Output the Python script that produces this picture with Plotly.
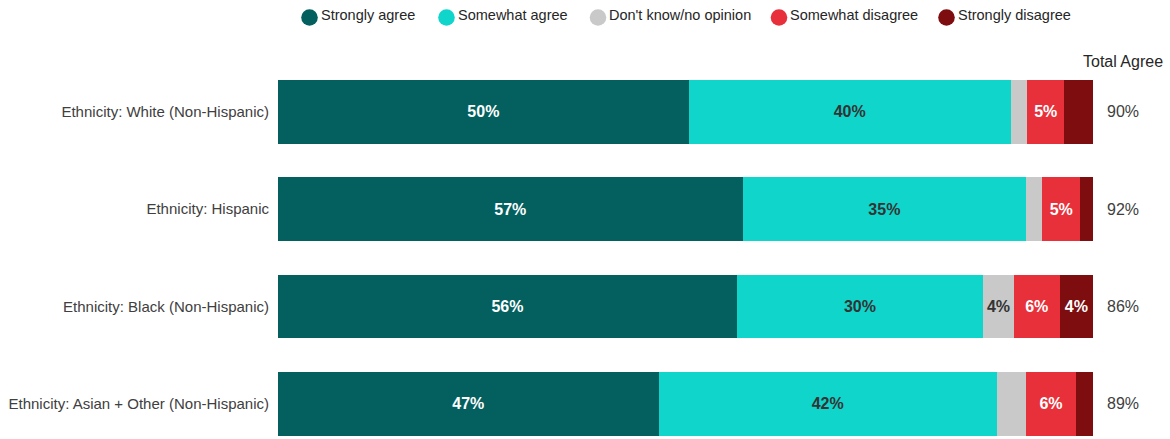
import plotly.graph_objects as go

categories = ["Ethnicity: White (Non-Hispanic)", "Ethnicity: Hispanic",
              "Ethnicity: Black (Non-Hispanic)", "Ethnicity: Asian + Other (Non-Hispanic)"]
series_names = ["Strongly agree", "Somewhat agree", "Don't know/no opinion",
                "Somewhat disagree", "Strongly disagree"]
strongly_agree = [50.4, 57.0, 56.3, 46.7]
somewhat_agree = [39.5, 34.8, 30.2, 41.5]
dont_know = [2.0, 2.0, 3.8, 3.6]
somewhat_disagree = [4.6, 4.6, 5.6, 6.1]
strongly_disagree = [3.5, 1.6, 4.1, 2.1]
total_agree = [90, 92, 86, 89]
total_header = "Total Agree"

colors = ["#03605F", "#10D5CB", "#C9C9C9", "#E8303A", "#7E0D10"]
text_colors = ["#FFFFFF", "#333333", "#333333", "#FFFFFF", "#FFFFFF"]
series = [strongly_agree, somewhat_agree, dont_know, somewhat_disagree, strongly_disagree]

FONT = "Liberation Sans, Arial, sans-serif"
W, H = 1170, 439
L, R, T, B = 278, 77, 63, 0
pw, ph = W - L - R, H - T - B

def px2x(px):
    return (px - L) / pw

def py2y(py):
    return 1 - (py - T) / ph

fig = go.Figure()
for name, vals, col, tcol in zip(series_names, series, colors, text_colors):
    txt = [f"{round(v)}%" if v >= 3.7 else "" for v in vals]
    fig.add_trace(go.Bar(
        y=categories, x=vals, orientation="h", name=name,
        marker=dict(color=col, line=dict(width=0)),
        width=0.655, text=txt, textposition="inside", insidetextanchor="middle",
        textangle=0, constraintext="none",
        textfont=dict(family=FONT, size=16, color=tcol, weight="bold"),
        showlegend=False, hoverinfo="skip",
    ))

# Total agree column
for cat, v in zip(categories, total_agree):
    fig.add_annotation(x=px2x(1123), xref="paper", y=cat, yref="y", text=f"{v}%",
                       showarrow=False, xanchor="center",
                       font=dict(family=FONT, size=16, color="#404040"))
fig.add_annotation(x=px2x(1123), xref="paper", y=py2y(61), yref="paper", text=total_header,
                   showarrow=False, xanchor="center", yanchor="middle",
                   font=dict(family=FONT, size=16, color="#262626"))

# Custom legend
legend_circle_px = [309.5, 446.5, 598, 779, 946.5]
for name, col, cx in zip(series_names, colors, legend_circle_px):
    fig.add_shape(type="circle", xref="paper", yref="paper",
                  xsizemode="pixel", ysizemode="pixel",
                  xanchor=px2x(cx), yanchor=py2y(17.5),
                  x0=-8.3, x1=8.3, y0=-8.3, y1=8.3,
                  fillcolor=col, line=dict(width=0))
    fig.add_annotation(x=px2x(cx + 9), xref="paper", y=py2y(15), yref="paper",
                       text=name, showarrow=False, xanchor="left", yanchor="middle",
                       font=dict(family=FONT, size=14.5, color="#262626"))

fig.update_layout(
    width=W, height=H, barmode="stack",
    margin=dict(l=L, r=R, t=T, b=B, pad=0),
    plot_bgcolor="white", paper_bgcolor="white",
    font=dict(family=FONT, color="#404040"),
    xaxis=dict(range=[0, 100], visible=False, fixedrange=True),
    yaxis=dict(range=[3.36, -0.5], showgrid=False, zeroline=False, showline=False,
               ticks="", ticklabelstandoff=8, fixedrange=True,
               tickfont=dict(family=FONT, size=15, color="#404040")),
)

fig.write_html("out.html", config={"displayModeBar": False},
               post_script="document.body.style.margin='0';document.body.style.overflow='hidden';")
